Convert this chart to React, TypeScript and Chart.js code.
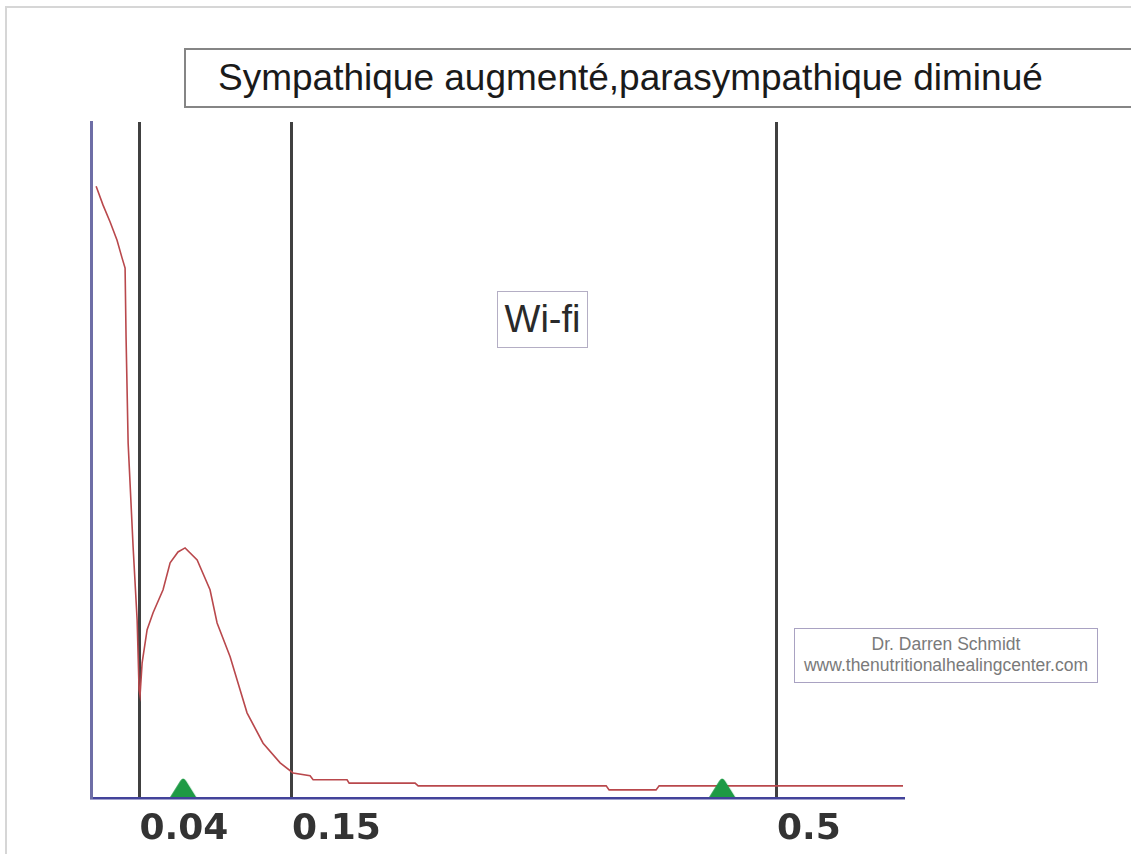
import React, { useEffect, useRef } from 'react';
import { Chart, registerables } from 'chart.js';

Chart.register(...registerables);

// ---- Data (frequency in Hz, relative spectral power) ----
const frequencyHz = [
  0.0087, 0.0137, 0.0188, 0.0238, 0.0274, 0.0296, 0.0303, 0.0318, 0.0354, 0.0383,
  0.0397, 0.0404, 0.0419, 0.0455, 0.0498, 0.057, 0.0621, 0.0678, 0.0729, 0.0816,
  0.0909, 0.096, 0.1054, 0.1104, 0.1176, 0.1292, 0.1415, 0.1508, 0.1631, 0.1653,
  0.1898, 0.1913, 0.2389, 0.2411, 0.3768, 0.3789, 0.4128, 0.415, 0.5911,
];
const power = [
  90.5, 87.7, 85.2, 82.5, 79.9, 78.4, 68.2, 52.5, 37.1, 26.3,
  16.0, 15.2, 20.0, 24.9, 27.4, 30.8, 34.8, 36.4, 37.0, 35.2,
  30.8, 25.9, 20.9, 17.5, 12.6, 8.1, 5.2, 3.7, 3.3, 2.7,
  2.7, 2.2, 2.2, 1.8, 1.8, 1.2, 1.2, 1.8, 1.8,
];
const bandBoundariesHz = [0.04, 0.15, 0.5];
const bandLabels = ['0.04', '0.15', '0.5'];
const peakMarkersHz = [0.0715, 0.4605];
const axisMinHz = 0.005;
const axisMaxHz = 0.591;
const powerMax = 100;

const titleText = 'Sympathique augmenté,parasympathique diminué';
const conditionLabel = 'Wi-fi';
const creditLines = ['Dr. Darren Schmidt', 'www.thenutritionalhealingcenter.com'];

function makeTriangle(): HTMLCanvasElement {
  const c = document.createElement('canvas');
  c.width = 30;
  c.height = 44;
  const ctx = c.getContext('2d')!;
  ctx.fillStyle = '#1e9a45';
  ctx.beginPath();
  ctx.moveTo(2, 21);
  ctx.lineTo(12, 5);
  ctx.quadraticCurveTo(15, 0, 18, 5);
  ctx.lineTo(28, 21);
  ctx.closePath();
  ctx.fill();
  return c;
}

export default function App() {
  const canvasRef = useRef<HTMLCanvasElement | null>(null);

  useEffect(() => {
    if (!canvasRef.current) return;
    const tri = makeTriangle();
    const chart = new Chart(canvasRef.current, {
      type: 'line',
      data: {
        datasets: [
          {
            type: 'scatter',
            label: 'peaks',
            data: peakMarkersHz.map((x) => ({ x, y: 0 })),
            pointStyle: tri as any,
            pointRadius: 10,
            showLine: false,
          } as any,
          {
            type: 'line',
            label: 'spectre',
            data: frequencyHz.map((x, i) => ({ x, y: power[i] })),
            borderColor: '#b9484c',
            borderWidth: 1.6,
            pointRadius: 0,
            tension: 0,
            fill: false,
          },
        ],
      },
      options: {
        animation: false,
        responsive: false,
        maintainAspectRatio: false,
        layout: { padding: { left: 91, right: 228, top: 122, bottom: -7.4 } },
        plugins: { legend: { display: false }, tooltip: { enabled: false }, title: { display: false } },
        scales: {
          x: {
            type: 'linear',
            min: axisMinHz,
            max: axisMaxHz,
            afterBuildTicks: (scale: any) => {
              scale.ticks = bandBoundariesHz.map((v) => ({ value: v }));
            },
            ticks: {
              align: 'start',
              padding: 20,
              color: '#333333',
              font: { family: 'DejaVu Sans', size: 36, weight: 'bold', lineHeight: 0.65 },
              callback: (value: any) => {
                const i = bandBoundariesHz.indexOf(Number(value));
                return i >= 0 ? bandLabels[i] : '';
              },
              autoSkip: false,
              maxRotation: 0,
            },
            grid: { color: '#404040', lineWidth: 3, drawTicks: false },
            border: { color: '#43439a', width: 2.5 },
          },
          y: {
            type: 'linear',
            min: 0,
            max: powerMax,
            ticks: { display: false },
            grid: { display: false, drawTicks: false },
            border: { color: '#6e6ea6', width: 3 },
          },
        },
      },
    });
    return () => chart.destroy();
  }, []);

  return (
    <div
      style={{
        position: 'absolute',
        left: 0,
        top: 0,
        width: 1131,
        height: 854,
        overflow: 'hidden',
        background: '#ffffff',
        fontFamily: '"Liberation Sans", Arial, sans-serif',
      }}
    >
      <div
        style={{
          position: 'absolute',
          left: 5,
          top: 6,
          width: 1126,
          height: 848,
          borderTop: '2px solid #d6d6d6',
          borderLeft: '2px solid #d6d6d6',
          boxSizing: 'border-box',
        }}
      />
      <canvas ref={canvasRef} width={1131} height={854} style={{ position: 'absolute', left: 0, top: 0 }} />
      <div
        style={{
          position: 'absolute',
          left: 184,
          top: 48,
          width: 947,
          height: 60,
          boxSizing: 'border-box',
          border: '2px solid #858585',
          borderRight: 'none',
          paddingLeft: 32,
          fontSize: 37,
          lineHeight: '56px',
          color: '#1a1a1a',
          whiteSpace: 'nowrap',
          background: '#ffffff',
        }}
      >
        {titleText}
      </div>
      <div
        style={{
          position: 'absolute',
          left: 497,
          top: 291,
          width: 91,
          height: 57,
          boxSizing: 'border-box',
          border: '1.5px solid #b4aec4',
          fontSize: 38,
          lineHeight: '54px',
          textAlign: 'center',
          color: '#2a2a2a',
          background: '#ffffff',
        }}
      >
        {conditionLabel}
      </div>
      <div
        style={{
          position: 'absolute',
          left: 794,
          top: 628,
          width: 304,
          height: 55,
          boxSizing: 'border-box',
          border: '1.5px solid #a9a2c2',
          paddingTop: 5,
          fontSize: 17.5,
          lineHeight: '21px',
          textAlign: 'center',
          color: '#7a7a7a',
          background: '#ffffff',
          whiteSpace: 'nowrap',
        }}
      >
        <div>{creditLines[0]}</div>
        <div>{creditLines[1]}</div>
      </div>
    </div>
  );
}
